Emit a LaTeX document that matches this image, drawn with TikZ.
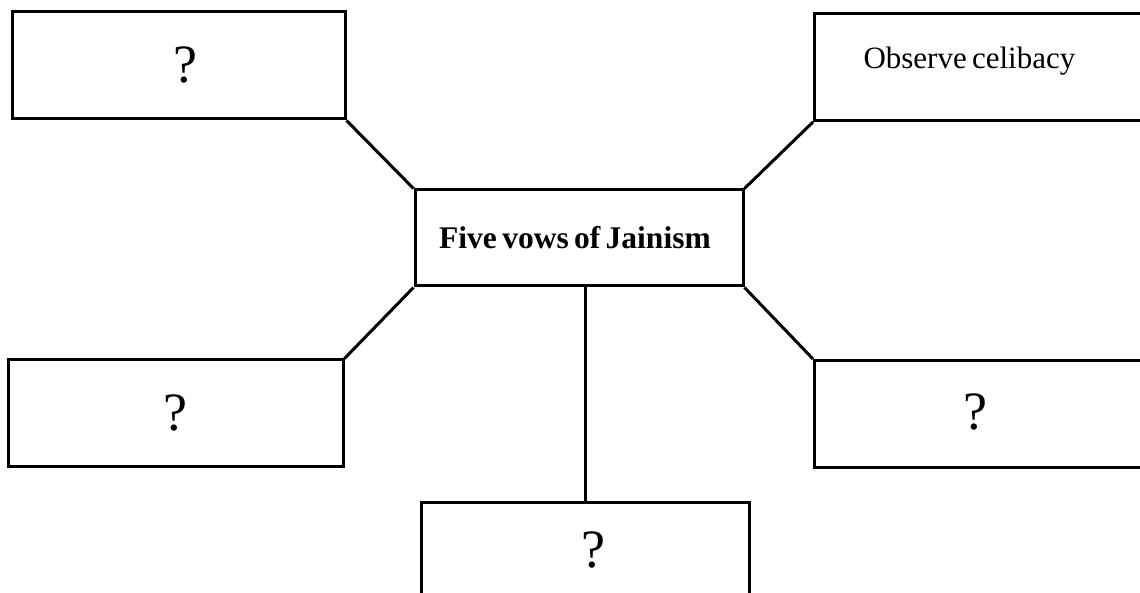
\documentclass[tikz,border=0pt]{standalone}
\usepackage{fontspec}
\setmainfont{Liberation Serif}
\newcommand{\tightsp}{\spaceskip=0.17em plus 0.05em\relax}
\begin{document}
\begin{tikzpicture}[x=1pt,y=-1pt,
  box/.style={draw=black,line width=3pt,rectangle,inner sep=0pt,fill=white},
  conn/.style={draw=black,line width=3pt},
  qtext/.style={font=\fontsize{54}{58}\selectfont}]
\useasboundingbox (0,0) rectangle (1140,593);
\clip (0,0) rectangle (1140,593);
\fill[white] (0,0) rectangle (1140,593);
\node[box,minimum width=328pt,minimum height=96pt,font=\fontsize{31.5}{34}\selectfont\bfseries] (C) at (579,238) {\tightsp\hspace*{-8pt}Five vows of Jainism};
\node[box,minimum width=333pt,minimum height=107pt,qtext] (TL) at (178.5,65.5) {\hspace*{14pt}?};
\node[box,anchor=north west,minimum width=340pt,minimum height=107pt,text width=340pt,align=left,font=\fontsize{31}{34}\selectfont] (TR) at (813,12) {\tightsp\hspace*{49pt}Observe celibacy\vspace*{12pt}};
\node[box,minimum width=335pt,minimum height=106pt,qtext] (BL) at (175.5,413) {?};
\node[box,anchor=north west,minimum width=340pt,minimum height=107pt,text width=340pt,align=left,qtext] (BR) at (813,359) {\hspace*{149pt}?\vspace*{4pt}};
\node[box,minimum width=328pt,minimum height=96pt,qtext] (BC) at (585,550) {\hspace*{16pt}?};
\draw[conn] (TL.south east) -- (C.north west);
\draw[conn] (TR.south west) -- (C.north east);
\draw[conn] (C.south west) -- (BL.north east);
\draw[conn] (C.south east) -- (BR.north west);
\draw[conn] (BC.north |- C.south) -- (BC.north);
\end{tikzpicture}
\end{document}
